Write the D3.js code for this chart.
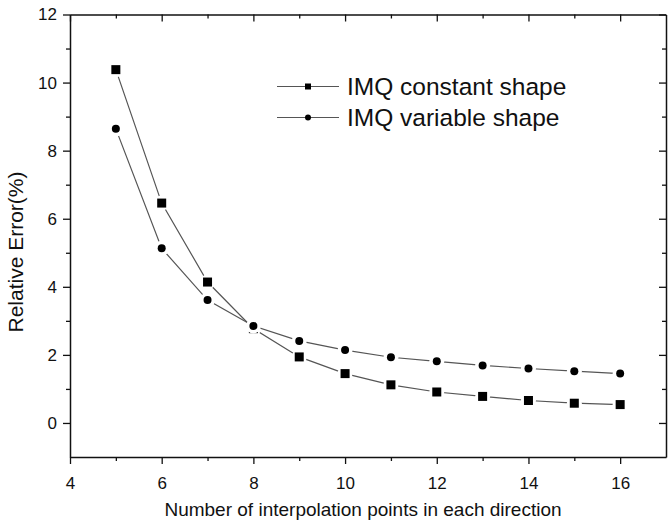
<!DOCTYPE html>
<html>
<head>
<meta charset="utf-8">
<script src="https://cdn.jsdelivr.net/npm/d3@7"></script>
<style>
  body { margin: 0; background: #fff; }
  text { font-family: "Liberation Sans", Arial, sans-serif; fill: #111; }
</style>
</head>
<body>
<div id="chart"></div>
<script>
// data
const points = [5, 6, 7, 8, 9, 10, 11, 12, 13, 14, 15, 16];
const constantShape = [10.38, 6.46, 4.14, 2.77, 1.94, 1.45, 1.12, 0.91, 0.78, 0.66, 0.58, 0.54];
const variableShape = [8.64, 5.13, 3.61, 2.85, 2.41, 2.14, 1.93, 1.81, 1.69, 1.60, 1.52, 1.45];
const seriesNames = ["IMQ constant shape", "IMQ variable shape"];
const xTicks = [4, 6, 8, 10, 12, 14, 16];
const yTicks = [0, 2, 4, 6, 8, 10, 12];

let width = 670;
let height = 524;
let plotLeft = 70, plotRight = 666, plotTop = 14.5, plotBottom = 457;

let svg = d3.select('#chart')
  .append('svg')
  .attr('width', width)
  .attr('height', height);

let x = d3.scaleLinear().domain([4, 17]).range([plotLeft, plotRight]);
let y = d3.scaleLinear().domain([-1, 12]).range([plotBottom, plotTop]);

const xMinor = d3.range(5, 17, 2);
const yMinor = d3.range(1, 12, 2);

// bottom axis
svg.append('g')
  .attr('transform', `translate(0,${plotBottom})`)
  .call(d3.axisBottom(x).tickValues(xTicks).tickSize(7).tickSizeOuter(0).tickPadding(13))
  .call(g => g.selectAll('text').style('font-size', '17px'));
svg.append('g')
  .attr('transform', `translate(0,${plotBottom})`)
  .call(d3.axisBottom(x).tickValues(xMinor).tickSize(4).tickSizeOuter(0).tickFormat(''))
  .call(g => g.select('.domain').remove());

// left axis
svg.append('g')
  .attr('transform', `translate(${plotLeft},0)`)
  .call(d3.axisLeft(y).tickValues(yTicks).tickSize(7).tickSizeOuter(0).tickPadding(6))
  .call(g => g.selectAll('text').style('font-size', '17px'));
svg.append('g')
  .attr('transform', `translate(${plotLeft},0)`)
  .call(d3.axisLeft(y).tickValues(yMinor).tickSize(4).tickSizeOuter(0).tickFormat(''))
  .call(g => g.select('.domain').remove());

// top axis, ticks inward
svg.append('g')
  .attr('transform', `translate(0,${plotTop})`)
  .call(d3.axisTop(x).tickValues(xTicks).tickSize(-7).tickSizeOuter(0).tickFormat(''));
svg.append('g')
  .attr('transform', `translate(0,${plotTop})`)
  .call(d3.axisTop(x).tickValues(xMinor).tickSize(-4).tickSizeOuter(0).tickFormat(''))
  .call(g => g.select('.domain').remove());

// right axis, ticks inward
svg.append('g')
  .attr('transform', `translate(${plotRight},0)`)
  .call(d3.axisRight(y).tickValues(yTicks).tickSize(-7).tickSizeOuter(0).tickFormat(''));
svg.append('g')
  .attr('transform', `translate(${plotRight},0)`)
  .call(d3.axisRight(y).tickValues(yMinor).tickSize(-4).tickSizeOuter(0).tickFormat(''))
  .call(g => g.select('.domain').remove());

svg.selectAll('.domain').attr('stroke', '#111').attr('stroke-width', 1.5);
svg.selectAll('.tick line').attr('stroke', '#111').attr('stroke-width', 1.3);

// axis titles
svg.append('text')
  .attr('x', (plotLeft + plotRight) / 2 - 5)
  .attr('y', 516)
  .attr('text-anchor', 'middle')
  .style('font-size', '19px')
  .text('Number of interpolation points in each direction');

svg.append('text')
  .attr('transform', `translate(23,252) rotate(-90)`)
  .attr('text-anchor', 'middle')
  .style('font-size', '21px')
  .text('Relative Error(%)');

// series
const series = [
  { values: constantShape, shape: 'square' },
  { values: variableShape, shape: 'circle' }
];

let line = d3.line()
  .x(d => x(d[0]))
  .y(d => y(d[1]));

function drawMarker(g, shape, cx, cy, size, halo) {
  if (shape === 'square') {
    g.append('rect')
      .attr('x', cx - size / 2).attr('y', cy - size / 2)
      .attr('width', size).attr('height', size)
      .attr('fill', halo ? '#fff' : '#000');
  } else {
    g.append('circle')
      .attr('cx', cx).attr('cy', cy)
      .attr('r', size / 2)
      .attr('fill', halo ? '#fff' : '#000');
  }
}

series.forEach(s => {
  const pts = points.map((p, i) => [p, s.values[i]]);
  const g = svg.append('g');
  g.append('path')
    .datum(pts)
    .attr('fill', 'none')
    .attr('stroke', '#555')
    .attr('stroke-width', 1.2)
    .attr('d', line);
  // white halo gives the gap between line and marker
  pts.forEach(d => drawMarker(g, 'circle', x(d[0]), y(d[1]), 15, true));
  pts.forEach(d => drawMarker(g, s.shape, x(d[0]), y(d[1]), s.shape === 'square' ? 9 : 8, false));
});

// legend
const legend = svg.append('g');
series.forEach((s, i) => {
  const ly = 86.5 + i * 31;
  legend.append('line')
    .attr('x1', 277).attr('x2', 339)
    .attr('y1', ly).attr('y2', ly)
    .attr('stroke', '#555').attr('stroke-width', 1.2);
  drawMarker(legend, s.shape, 308, ly, 6, false);
  legend.append('text')
    .attr('x', 347)
    .attr('y', ly + 8.5)
    .style('font-size', '24.5px')
    .text(seriesNames[i]);
});
</script>
</body>
</html>
